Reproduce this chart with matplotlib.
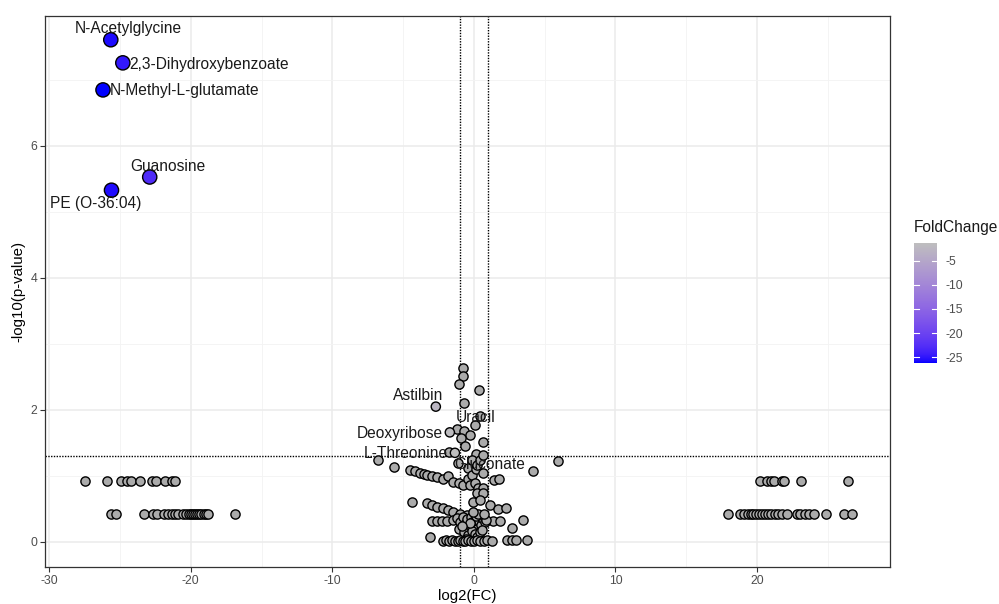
import numpy as np
import matplotlib
matplotlib.use("Agg")
import matplotlib.pyplot as plt
from matplotlib.colors import ListedColormap, Normalize
from matplotlib.colorbar import ColorbarBase

plt.rcParams['font.family'] = ['Liberation Sans', 'DejaVu Sans']
plt.rcParams['axes.unicode_minus'] = False

# ---------------- data ----------------
# significant / labelled metabolites
label_names = ["N-Acetylglycine", "2,3-Dihydroxybenzoate", "N-Methyl-L-glutamate",
               "Guanosine", "PE (O-36:04)", "Astilbin", "Uracil", "Deoxyribose",
               "L-Threonine", "Gluconate"]
label_fc = [-25.65, -24.8, -26.2, -22.9, -25.6, -2.69, 0.42, -1.70, -1.34, 0.66]
label_p = [7.61, 7.26, 6.85, 5.53, 5.33, 2.05, 1.91, 1.66, 1.35, 1.32]

# other metabolites near the centre
center_fc = [-0.75, -0.80, -1.08, 0.37, -0.71, 0.07, -1.18, -0.71, -0.28, -0.94, -0.61, 0.61,
             -1.74, 0.14,
             -6.80, -5.63, -4.52, -4.17, -3.82, -3.50, -3.34, -2.99, -2.59, -2.17, -1.81, -1.46,
             -1.11, -1.04, -0.75, -0.40, -0.40, -0.16, -0.16, -0.28, 0.07, 0.14, 0.19, 0.42,
             0.31, 0.66, 0.19, 0.61, 0.61, -0.09, 0.42, 1.41, 1.79, 4.19, 5.96,
             -4.40, -3.34, -2.99, -2.64, -2.21, -1.81, -1.46, -0.99, -0.52, 1.13, 1.72, 2.26,
             -2.99, -2.64, -2.28, -1.93, 1.36, 1.84, 3.44, 2.66,
             -1.45, -1.20, -0.95, -0.80, -0.62, -0.50, -0.35, -0.22, -0.10, 0.02, 0.12, 0.25,
             0.35, 0.48, 0.60, 0.75, 0.88, -1.05, -0.70, -0.40, -0.15, 0.05, 0.20, 0.40, 0.58,
             -0.55, -0.25, 0.15, 0.30, 0.70, -0.05, -0.85,
             -3.11, -2.20, -1.95, -1.75, -1.55, -1.35, -1.15, -0.95, -0.80, -0.60, -0.42, -0.20,
             0.00, 0.20, 0.45, 0.70, 0.95, 1.30, 2.31, 2.66, 2.97, 3.72]
center_p = [2.63, 2.52, 2.40, 2.30, 2.10, 1.77, 1.71, 1.68, 1.62, 1.57, 1.46, 1.52,
            1.36, 1.33,
            1.24, 1.13, 1.09, 1.08, 1.05, 1.03, 1.02, 1.00, 0.98, 0.95, 1.00, 0.91,
            1.19, 0.89, 0.86, 0.96, 1.12, 1.24, 1.02, 0.86, 0.89, 1.10, 1.17, 1.24,
            0.81, 0.81, 0.74, 0.74, 1.05, 0.61, 0.64, 0.94, 0.95, 1.07, 1.23,
            0.61, 0.59, 0.56, 0.53, 0.51, 0.48, 0.46, 0.43, 0.41, 0.56, 0.50, 0.51,
            0.32, 0.31, 0.31, 0.31, 0.31, 0.31, 0.33, 0.21,
            0.33, 0.36, 0.30, 0.38, 0.27, 0.34, 0.22, 0.38, 0.30, 0.25, 0.35, 0.20,
            0.31, 0.26, 0.36, 0.30, 0.33, 0.20, 0.15, 0.10, 0.17, 0.12, 0.08, 0.15, 0.18,
            0.05, 0.28, 0.40, 0.43, 0.42, 0.45, 0.24,
            0.07, 0.02, 0.03, 0.02, 0.03, 0.02, 0.02, 0.03, 0.02, 0.02, 0.03, 0.02,
            0.02, 0.03, 0.02, 0.02, 0.03, 0.02, 0.03, 0.03, 0.03, 0.03]

# metabolites only detected in one group (extreme fold changes)
left_upper_fc = [-27.49, -25.89, -24.95, -24.47, -24.19, -23.60, -22.73, -22.47, -21.79, -21.36, -21.08]
left_upper_p = [0.93] * len(left_upper_fc)
left_lower_fc = [-25.60, -25.25, -23.32, -22.66, -22.42, -21.91, -21.60, -21.36, -21.13, -20.90,
                 -20.54, -20.35, -20.15, -20.00, -19.85, -19.70, -19.55, -19.40, -19.25, -19.10,
                 -18.95, -18.80, -16.90]
left_lower_p = [0.42] * len(left_lower_fc)
right_upper_fc = [20.21, 20.68, 20.99, 21.22, 21.75, 21.93, 23.11, 26.41]
right_upper_p = [0.93] * len(right_upper_fc)
right_lower_fc = [17.93, 18.80, 19.10, 19.35, 19.55, 19.75, 19.95, 20.15, 20.35, 20.55, 20.75,
                  21.00, 21.25, 21.50, 21.75, 22.10, 22.80, 23.04, 23.39, 23.67, 24.05, 24.86,
                  26.17, 26.73]
right_lower_p = [0.42] * len(right_lower_fc)

fc_cut = 1.0
p_cut = -np.log10(0.05)

# ---------------- colour scale (ggplot-like Lab gradient) ----------------
def srgb_to_lab(rgb):
    rgb = np.asarray(rgb, float)
    lin = np.where(rgb <= 0.04045, rgb / 12.92, ((rgb + 0.055) / 1.055) ** 2.4)
    M = np.array([[0.4124, 0.3576, 0.1805], [0.2126, 0.7152, 0.0722], [0.0193, 0.1192, 0.9505]])
    xyz = M @ lin
    wp = np.array([0.95047, 1.0, 1.08883])
    t = xyz / wp
    f = np.where(t > 0.008856, np.cbrt(t), 7.787 * t + 16 / 116)
    return np.array([116 * f[1] - 16, 500 * (f[0] - f[1]), 200 * (f[1] - f[2])])

def lab_to_srgb(lab):
    L, a, b = lab
    fy = (L + 16) / 116
    fx = fy + a / 500
    fz = fy - b / 200
    f = np.array([fx, fy, fz])
    t = np.where(f ** 3 > 0.008856, f ** 3, (f - 16 / 116) / 7.787)
    xyz = t * np.array([0.95047, 1.0, 1.08883])
    Minv = np.array([[3.2406, -1.5372, -0.4986], [-0.9689, 1.8758, 0.0415], [0.0557, -0.2040, 1.0570]])
    lin = Minv @ xyz
    lin = np.clip(lin, 0, 1)
    rgb = np.where(lin <= 0.0031308, 12.92 * lin, 1.055 * lin ** (1 / 2.4) - 0.055)
    return np.clip(rgb, 0, 1)

low_lab = srgb_to_lab([0, 0, 1])
high_lab = srgb_to_lab([0xBE / 255, 0xBE / 255, 0xBE / 255])
cols = [lab_to_srgb(low_lab + (high_lab - low_lab) * t) for t in np.linspace(0, 1, 256)]
cmap = ListedColormap(cols)

# ---------------- figure ----------------
fig = plt.figure(figsize=(9.99, 6.04), dpi=100)
ax = fig.add_axes([0.045, 0.0613, 0.846, 0.9122])

grey_fill = '#ABABAB'

all_fc = np.array(center_fc + left_upper_fc + left_lower_fc + right_upper_fc + right_lower_fc)
all_p = np.array(center_p + left_upper_p + left_lower_p + right_upper_p + right_lower_p)

lab_fc = np.array(label_fc)
lab_p = np.array(label_p)
sig = (np.abs(lab_fc) > fc_cut) & (lab_p > p_cut)
vmin, vmax = lab_fc[sig].min(), lab_fc[sig].max()
norm = Normalize(vmin=vmin, vmax=vmax)

ax.scatter(all_fc, all_p, s=44, c=grey_fill, edgecolors='black', linewidths=1.0, zorder=3)
ax.scatter(lab_fc[~sig], lab_p[~sig], s=44, c=grey_fill, edgecolors='black', linewidths=1.0, zorder=3)
sizes = np.where(lab_p[sig] > 4, 105, 44)
ax.scatter(lab_fc[sig], lab_p[sig], s=sizes, c=cmap(norm(lab_fc[sig])), edgecolors='black',
           linewidths=1.0, zorder=4)

# threshold lines
ax.axhline(p_cut, color='black', linestyle=(0, (1, 1)), linewidth=1.0, zorder=2)
ax.axvline(-fc_cut, color='black', linestyle=(0, (1, 1)), linewidth=1.0, zorder=2)
ax.axvline(fc_cut, color='black', linestyle=(0, (1, 1)), linewidth=1.0, zorder=2)

# labels: (dx, dy) pixel offsets and alignment
px = 0.72
label_layout = {
    "N-Acetylglycine": (18, 11, 'center'),
    "2,3-Dihydroxybenzoate": (6, -2, 'left'),
    "N-Methyl-L-glutamate": (7, -1, 'left'),
    "Guanosine": (18, 11, 'center'),
    "PE (O-36:04)": (-16, -13, 'center'),
    "Astilbin": (-18, 11, 'center'),
    "Uracil": (-4, -2, 'center'),
    "Deoxyribose": (-7, -1, 'right'),
    "L-Threonine": (-7, -1, 'right'),
    "Gluconate": (6, -10, 'center'),
}
for name, x, y in zip(label_names, label_fc, label_p):
    dx, dy, ha = label_layout[name]
    ax.annotate(name, (x, y), xytext=(dx * px, dy * px), textcoords='offset points',
                ha=ha, va='center', fontsize=11.2, color='#1a1a1a', zorder=5)

ax.set_xlim(-30.3, 29.4)
ax.set_ylim(-0.38, 7.97)
ax.set_xticks([-30, -20, -10, 0, 10, 20])
ax.set_yticks([0, 2, 4, 6])
ax.set_xticks([-25, -15, -5, 5, 15, 25], minor=True)
ax.set_yticks([1, 3, 5, 7], minor=True)
ax.grid(True, which='major', color='#EBEBEB', linewidth=1.1, zorder=0)
ax.grid(True, which='minor', color='#F3F3F3', linewidth=0.6, zorder=0)
ax.set_axisbelow(True)
ax.tick_params(which='major', length=3.5, width=0.8, color='#333333', labelsize=8.8,
               labelcolor='#4D4D4D', pad=2)
ax.tick_params(which='minor', length=0)
for sp in ax.spines.values():
    sp.set_color('#333333')
    sp.set_linewidth(0.9)
ax.set_xlabel('log2(FC)', fontsize=10.8, labelpad=2)
ax.set_ylabel('-log10(p-value)', fontsize=10.8, labelpad=4)

# colour bar legend
cax = fig.add_axes([0.915, 0.399, 0.023, 0.199])
cb = ColorbarBase(cax, cmap=cmap, norm=norm, orientation='vertical')
cb.set_ticks([-25, -20, -15, -10, -5])
cb.outline.set_visible(False)
cax.tick_params(length=0, labelsize=8.8, labelcolor='#4D4D4D', pad=6)
for t in [-25, -20, -15, -10, -5]:
    cax.plot([0, 0.2], [t, t], color='white', linewidth=0.8, transform=cax.get_yaxis_transform())
    cax.plot([0.8, 1.0], [t, t], color='white', linewidth=0.8, transform=cax.get_yaxis_transform())
fig.text(0.915, 0.623, 'FoldChange', fontsize=11.2, ha='left', va='center', color='#1a1a1a')

fig.savefig('out.png', dpi=100)
